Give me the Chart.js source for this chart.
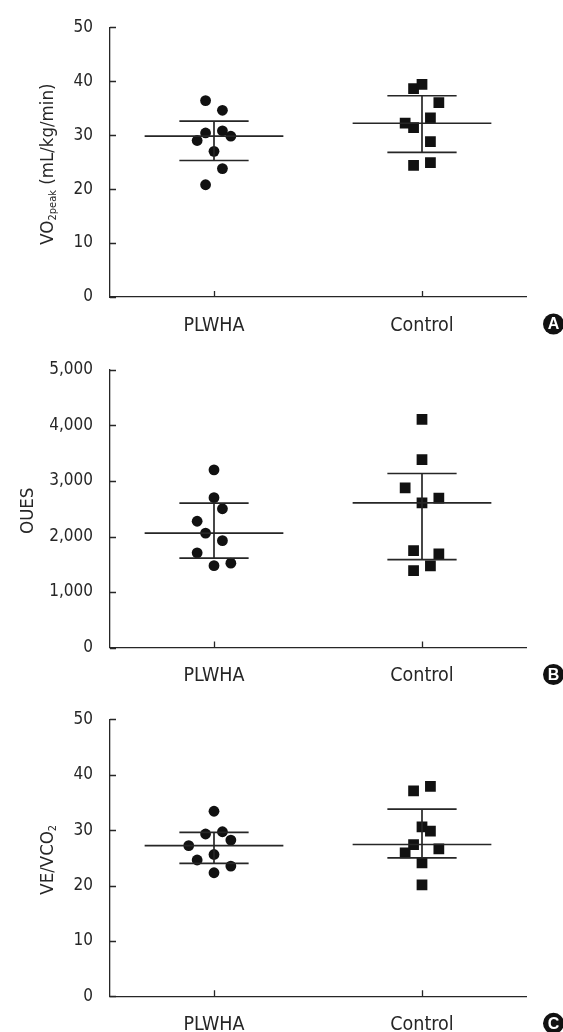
<!DOCTYPE html>
<html>
<head>
<meta charset="utf-8">
<script src="https://cdn.jsdelivr.net/npm/chart.js@4/dist/chart.umd.min.js"></script>
<style>
  body { margin: 0; background: #fff; }
  .panel { position: absolute; left: 0; width: 563px; }
</style>
</head>
<body>
<div class="panel" style="top:0;height:340px"><canvas id="chartA"></canvas></div>
<div class="panel" style="top:340px;height:350px"><canvas id="chartB"></canvas></div>
<div class="panel" style="top:690px;height:342px"><canvas id="chartC"></canvas></div>
<script>
const groups = ['PLWHA', 'Control'];

// A - VO2peak (mL/kg/min)
const vo2Plwha = [36.4, 34.6, 30.4, 30.8, 29.0, 29.8, 27.0, 23.8, 20.8];
const vo2Control = [38.6, 39.4, 36.0, 33.2, 32.2, 31.4, 28.8, 24.4, 24.9];
const vo2Median = [29.8, 32.2];
const vo2Q1 = [25.3, 26.8];
const vo2Q3 = [32.6, 37.3];

// B - OUES
const ouesPlwha = [3200, 2700, 2500, 2275, 2060, 1925, 1705, 1475, 1520];
const ouesControl = [4110, 3385, 2875, 2690, 2605, 1745, 1685, 1470, 1385];
const ouesMedian = [2060, 2605];
const ouesQ1 = [1610, 1585];
const ouesQ3 = [2600, 3135];

// C - VE/VCO2
const veco2Plwha = [33.4, 29.3, 29.7, 28.2, 27.2, 25.6, 24.6, 23.5, 22.3];
const veco2Control = [37.1, 37.9, 30.6, 29.8, 27.4, 25.9, 26.6, 24.1, 20.1];
const veco2Median = [27.2, 27.4];
const veco2Q1 = [24.0, 25.0];
const veco2Q3 = [29.6, 33.8];

// horizontal spread of the dots (column slot left/right of centre)
const spreadA = [[-1, 1, -1, 1, -2, 2, 0, 1, -1], [-1, 0, 2, 1, -2, -1, 1, -1, 1]];
const spreadB = [[0, 0, 1, -2, -1, 1, -2, 0, 2], [0, 0, -2, 2, 0, -1, 2, 1, -1]];
const spreadC = [[0, -1, 1, 2, -3, 0, -2, 2, 0], [-1, 1, 0, 1, -1, -2, 2, 0, 0]];

const FONT = "'Liberation Sans Narrow', 'Arial Narrow', 'DejaVu Sans Condensed', sans-serif";
const INK = '#262626';
const STEP = 0.081;
const centers = [1, 3];

const innerTicks = {
  id: 'innerTicks',
  afterDraw(chart) {
    const { ctx, chartArea: a, scales } = chart;
    ctx.save();
    ctx.strokeStyle = INK;
    ctx.lineWidth = 1.3;
    ctx.beginPath();
    scales.y.ticks.forEach(t => {
      const py = Math.round(scales.y.getPixelForValue(t.value)) + 0.5;
      ctx.moveTo(a.left, py);
      ctx.lineTo(a.left + 6, py);
    });
    scales.x.ticks.forEach(t => {
      const px = Math.round(scales.x.getPixelForValue(t.value)) + 0.5;
      ctx.moveTo(px, a.bottom);
      ctx.lineTo(px, a.bottom - 6);
    });
    ctx.stroke();
    ctx.restore();
  }
};

const sideTitle = {
  id: 'sideTitle',
  afterDraw(chart, args, opts) {
    const { ctx, chartArea: a } = chart;
    const big = '18.5px ' + FONT, small = '11px ' + FONT;
    ctx.save();
    let total = 0;
    opts.parts.forEach(p => { ctx.font = p[1] ? small : big; total += ctx.measureText(p[0]).width; });
    ctx.translate(opts.x, (a.top + a.bottom) / 2 + 2);
    ctx.rotate(-Math.PI / 2);
    ctx.fillStyle = INK;
    ctx.textBaseline = 'alphabetic';
    let u = -total / 2;
    opts.parts.forEach(p => {
      ctx.font = p[1] ? small : big;
      ctx.fillText(p[0], u, p[1] ? 9.5 : 7);
      u += ctx.measureText(p[0]).width;
    });
    ctx.restore();
  }
};

const badge = {
  id: 'badge',
  afterDraw(chart, args, opts) {
    const { ctx, chartArea: a } = chart;
    const cx = a.right + 27.5, cy = a.bottom + 27;
    ctx.save();
    ctx.fillStyle = '#111';
    ctx.beginPath();
    ctx.arc(cx, cy, 10.5, 0, Math.PI * 2);
    ctx.fill();
    ctx.fillStyle = '#fff';
    ctx.font = 'bold 16px Arial, "Liberation Sans", sans-serif';
    ctx.textAlign = 'center';
    ctx.textBaseline = 'middle';
    ctx.fillText(opts.letter, cx, cy + 1);
    ctx.restore();
  }
};

function dots(values, slots, g) {
  return values.map((v, i) => ({ x: centers[g] + slots[i] * STEP, y: v }));
}

function summaryLines(median, q1, q3) {
  const mean = [], iqr = [];
  centers.forEach((c, g) => {
    mean.push({ x: c - 0.667, y: median[g] }, { x: c + 0.667, y: median[g] }, { x: c, y: null });
    iqr.push({ x: c - 0.333, y: q3[g] }, { x: c + 0.333, y: q3[g] }, { x: c, y: null },
             { x: c, y: q3[g] }, { x: c, y: q1[g] }, { x: c, y: null },
             { x: c - 0.333, y: q1[g] }, { x: c + 0.333, y: q1[g] }, { x: c, y: null });
  });
  return [mean, iqr];
}

function makePanel(id, p) {
  const [mean, iqr] = summaryLines(p.median, p.q1, p.q3);
  const lineStyle = { type: 'line', borderColor: INK, borderWidth: 1.7, pointRadius: 0, fill: false, spanGaps: false };
  return new Chart(document.getElementById(id), {
    type: 'scatter',
    data: {
      datasets: [
        { ...lineStyle, data: mean, order: 1 },
        { ...lineStyle, data: iqr, order: 1 },
        { data: dots(p.plwha, p.spread[0], 0), pointStyle: 'circle', pointRadius: 5.4,
          backgroundColor: '#111', borderWidth: 0, order: 2 },
        { data: dots(p.control, p.spread[1], 1), pointStyle: 'rect', pointRadius: 7.6,
          backgroundColor: '#111', borderWidth: 0, order: 2 }
      ]
    },
    options: {
      responsive: true,
      maintainAspectRatio: false,
      animation: false,
      layout: { padding: { top: p.top, right: 37, bottom: 0, left: 0 } },
      plugins: {
        legend: { display: false },
        tooltip: { enabled: false },
        sideTitle: { parts: p.title, x: p.titleX },
        badge: { letter: p.letter }
      },
      scales: {
        x: {
          type: 'linear', min: 0, max: 4,
          afterBuildTicks: s => { s.ticks = centers.map(v => ({ value: v })); },
          afterFit: s => { s.height = p.xHeight; },
          grid: { display: false, drawTicks: false },
          border: { display: true, color: INK, width: 1.3 },
          ticks: { callback: v => groups[(v - 1) / 2], color: INK, padding: 17, font: { family: FONT, size: 19.5 } }
        },
        y: {
          min: 0, max: p.max,
          afterFit: s => { s.width = 110; },
          grid: { display: false, drawTicks: false },
          border: { display: true, color: INK, width: 1.3 },
          ticks: { stepSize: p.step, color: INK, padding: 17, font: { family: FONT, size: 17 } }
        }
      }
    },
    plugins: [innerTicks, sideTitle, badge]
  });
}

makePanel('chartA', {
  plwha: vo2Plwha, control: vo2Control, median: vo2Median, q1: vo2Q1, q3: vo2Q3,
  spread: spreadA, max: 50, step: 10, top: 20, xHeight: 43, letter: 'A', titleX: 46,
  title: [['VO', 0], ['2peak', 1], [' (mL/kg/min)', 0]]
});
makePanel('chartB', {
  plwha: ouesPlwha, control: ouesControl, median: ouesMedian, q1: ouesQ1, q3: ouesQ3,
  spread: spreadB, max: 5000, step: 1000, top: 30, xHeight: 42.5, letter: 'B', titleX: 26,
  title: [['OUES', 0]]
});
makePanel('chartC', {
  plwha: veco2Plwha, control: veco2Control, median: veco2Median, q1: veco2Q1, q3: veco2Q3,
  spread: spreadC, max: 50, step: 10, top: 29.3, xHeight: 35.7, letter: 'C', titleX: 46,
  title: [['VE/VCO', 0], ['2', 1]]
});
</script>
</body>
</html>
